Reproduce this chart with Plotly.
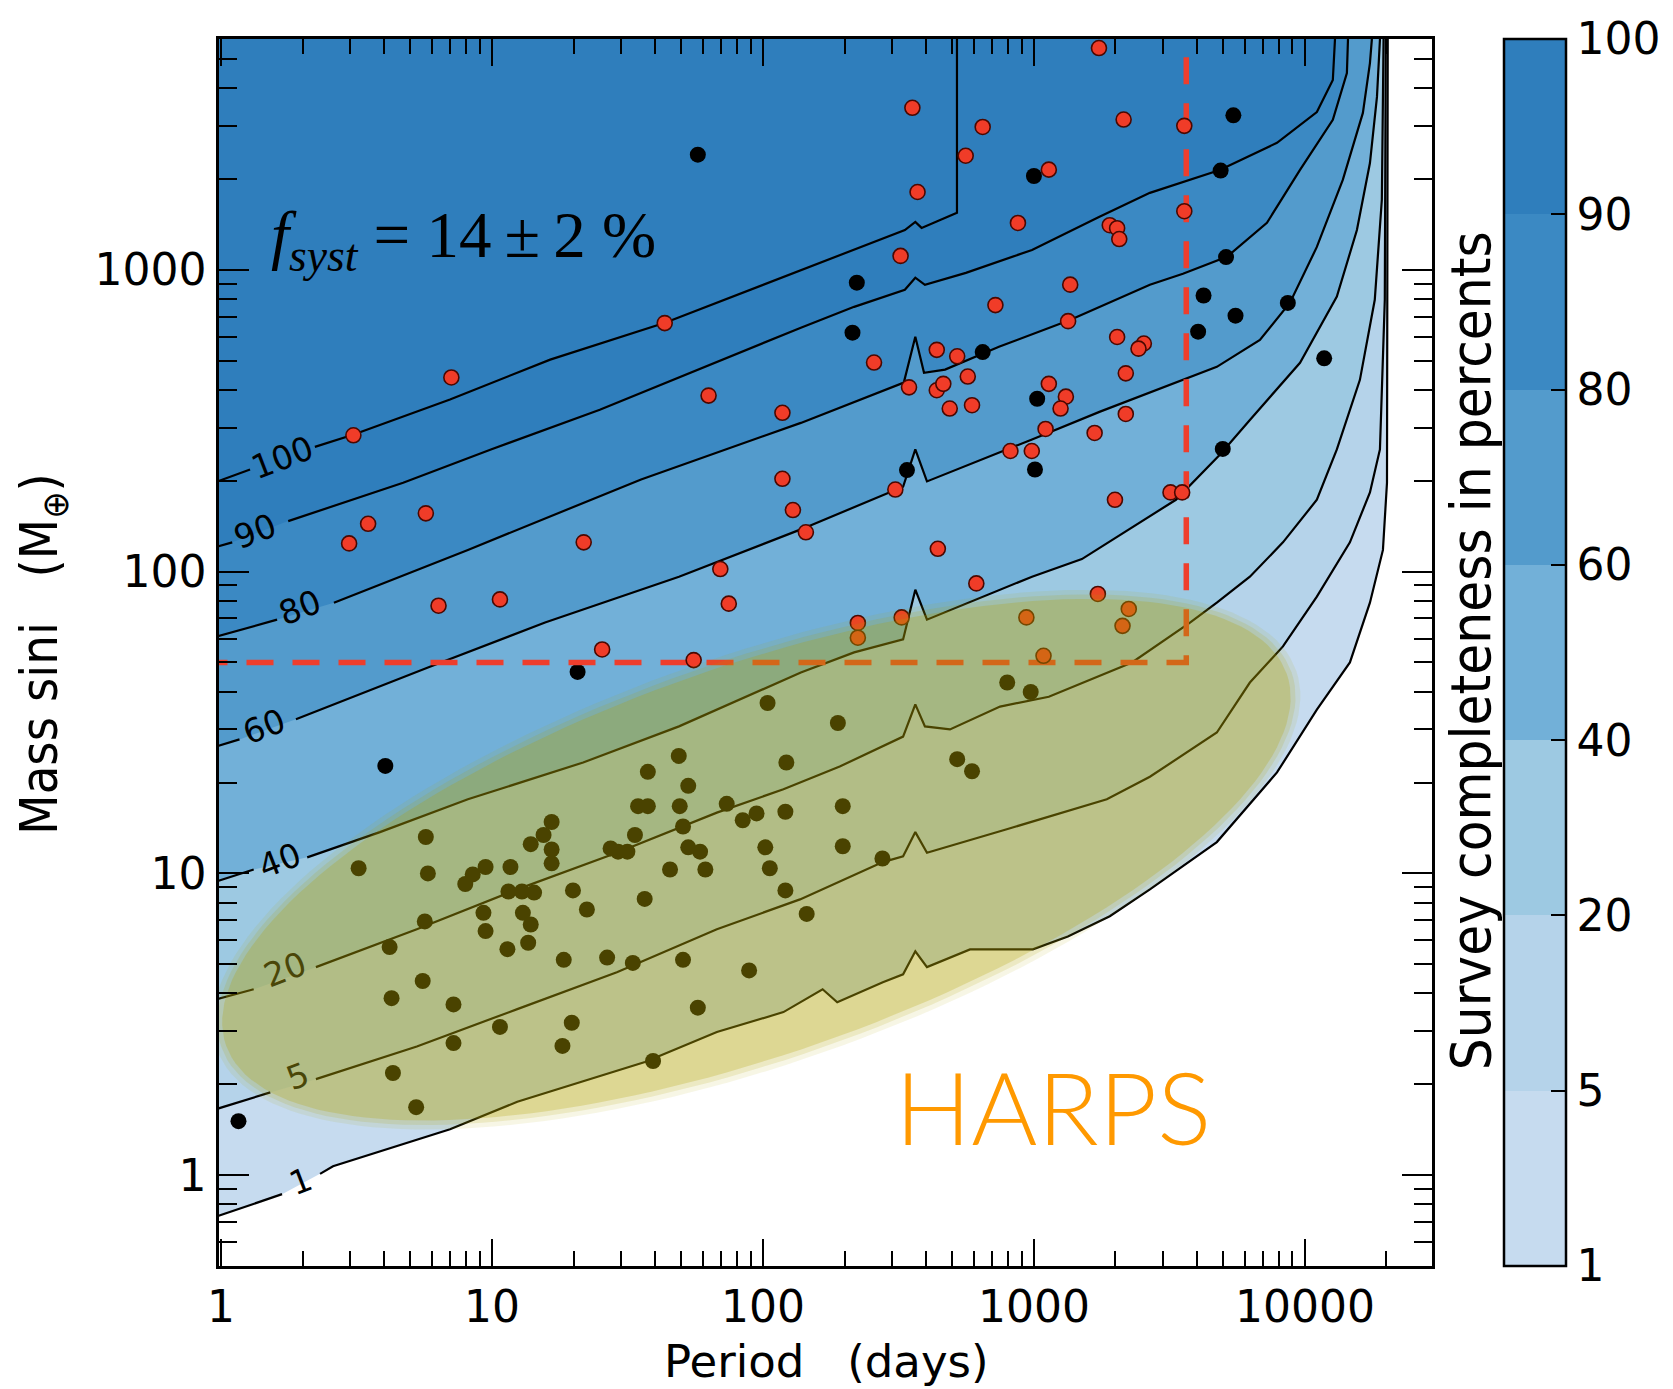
import math
import plotly.graph_objects as go

# ------------------------------------------------------------------
# Values
# ------------------------------------------------------------------
levels = [1, 5, 20, 40, 60, 80, 90, 100]
level_labels = ["1", "5", "20", "40", "60", "80", "90", "100"]
band_colors = ["#c6dbef", "#b5d3ea", "#9dc9e2", "#72b0d8", "#539bcc", "#3b89c3", "#2f7ebc"]

# completeness contour lines: period [days], mass sini [M_earth]
# (the first two points are the short piece left of the inline label)
c1_P = [0.97, 1.68, 2.32, 2.59, 7.0, 12.4, 36.7, 67.6, 119, 166, 188, 277, 329, 365, 403, 581, 991,
        1334, 1905, 2679, 4732, 7889, 11070, 14660, 17380, 19410, 20090, 20230, 20230]
c1_M = [0.731, 0.865, 1.01, 1.07, 1.42, 1.75, 2.37, 2.98, 3.47, 4.13, 3.74, 4.36, 4.63, 5.52, 4.89,
        5.60, 5.60, 6.18, 7.21, 8.85, 12.7, 21.6, 34.9, 50.0, 78.9, 118, 197, 5780, 8000]

c5_P = [0.97, 1.52, 2.24, 5.28, 12.4, 28.9, 67.6, 137, 277, 329, 365, 403, 794, 1858, 2679, 4732,
        6266, 8299, 11070, 14660, 17380, 18920, 19720, 19910, 19910]
c5_M = [1.66, 1.88, 2.08, 2.67, 3.55, 4.70, 6.53, 8.20, 10.9, 11.4, 13.7, 11.7, 14.0, 17.6, 20.9,
        29.3, 42.9, 56.5, 82.6, 125, 183, 254, 796, 5780, 8000]

c20_P = [0.97, 1.32, 2.24, 5.28, 12.4, 28.9, 67.6, 119, 192, 329, 365, 396, 490, 750, 1135, 2301,
         3767, 4732, 6266, 8299, 11070, 13120, 15960, 18110, 19230, 19590, 19590]
c20_M = [3.83, 4.13, 4.89, 6.53, 8.85, 11.7, 15.9, 19.0, 22.6, 28.4, 36.3, 30.7, 30.0, 35.7, 38.5,
         50.0, 67.8, 78.9, 96.2, 125, 173, 254, 432, 796, 1706, 5780, 8000]

c40_P = [0.97, 1.32, 2.08, 3.86, 8.15, 21.7, 49.0, 138, 217, 329, 365, 403, 984, 1503, 3342, 4853,
         6266, 9594, 13120, 15560, 17380, 18450, 18920, 18920]
c40_M = [9.42, 10.3, 11.3, 13.7, 17.6, 23.3, 30.7, 46.3, 54.0, 59.6, 87.1, 69.3, 96.2, 110, 173,
         244, 318, 492, 815, 1355, 2259, 3741, 5780, 8000]

c60_P = [0.97, 1.17, 1.89, 5.90, 15.7, 49.0, 138, 329, 365, 403, 794, 984, 1754, 2679, 4732, 6823,
         8810, 11070, 13800, 16370, 17380, 17660, 17660]
c60_M = [26.4, 27.8, 32.4, 48.4, 67.8, 96.2, 138, 191, 254, 199, 254, 274, 339, 392, 477, 586,
         778, 1191, 1986, 3311, 4842, 5780, 8000]

c80_P = [0.97, 1.61, 2.61, 8.15, 35.5, 138, 331, 365, 393, 470, 743, 1358, 2679, 3548, 5152, 7244,
         9594, 12680, 14290, 14420, 14420]
c80_M = [61.0, 69.3, 78.9, 118, 202, 311, 423, 600, 456, 467, 556, 682, 892, 970, 1104, 1432,
         2143, 3140, 4487, 5780, 8000]

c90_P = [0.97, 1.10, 1.77, 4.70, 9.91, 25.0, 138, 217, 334, 365, 396, 561, 984, 1738, 2679, 4853,
         7889, 11070, 12680, 12910, 12910]
c90_M = [121, 125, 147, 197, 254, 344, 643, 754, 859, 942, 892, 977, 1164, 1496, 1799, 2143,
         2636, 3334, 4256, 5780, 8000]

c100_P = [0.97, 1.28, 2.22, 3.07, 7.0, 16.4, 43.5, 138, 228, 334, 365, 385, 520, 520]
c100_M = [199, 218, 259, 284, 372, 504, 668, 1000, 1191, 1355, 1442, 1377, 1545, 8000]

# inline contour label positions (period, mass) in the order of `levels`
label_P = [1.96, 1.91, 1.72, 1.65, 1.44, 1.96, 1.33, 1.69]
label_M = [0.955, 2.13, 4.81, 11.0, 30.7, 76.0, 136, 238]

# planets
red_P = [3.08, 7.08, 43.4, 2.97, 3.49, 5.70, 21.8, 6.35, 10.7, 25.5, 55.5, 63.0, 69.6, 74.8, 118,
         129, 144, 118, 224, 224, 257, 308, 322, 325, 356, 372, 346, 438, 438, 463, 570, 489, 591,
         521, 560, 613, 647, 721, 819, 873, 982, 1104, 1135, 1135, 1312, 1254, 1361, 1337, 1675,
         1738, 1722, 1905, 2028, 2065, 1991, 2028, 2143, 2183, 2183, 2545, 2432, 3192, 3524, 3589,
         3589, 442, 938, 2239, 2123, 1085]
red_M = [283, 440, 666, 124, 144, 156, 125, 77.1, 80.9, 55.2, 50.9, 383, 102, 78.3, 336, 160, 135,
         203, 67.6, 60.4, 493, 187, 1112, 70.5, 3444, 1811, 408, 543, 399, 419, 443, 347, 356, 517,
         2388, 91.4, 2974, 764, 251, 1430, 251, 297, 2148, 419, 380, 347, 893, 676, 288, 5433, 84.3,
         1406, 1374, 1265, 173, 599, 3148, 454, 333, 570, 548, 183, 183, 3000, 1564, 119, 70.5,
         75.2, 66.1, 52.6]

black_P = [57.5, 222, 214, 647, 1028, 1000, 340, 1009, 5445, 4887, 5117, 4227, 5546, 4036, 8650,
           11780, 4977, 20.7, 4.04, 1.16]
black_M = [2408, 907, 619, 534, 374, 2046, 217, 218, 3251, 2133, 1102, 822, 705, 624, 777, 509,
           255, 46.5, 22.7, 1.51]

low_P = [104, 189, 48.9, 37.6, 122, 53.0, 34.6, 37.6, 49.3, 73.5, 84.2, 94.7, 50.7, 121, 197, 33.7,
         27.4, 29.2, 31.6, 16.6, 16.6, 16.6, 53.0, 58.6, 61.3, 45.4, 102, 106, 197, 276, 521, 591,
         19.9, 22.4, 36.6, 121, 145, 18.4, 26.6, 33.1, 50.7, 88.9, 57.5, 19.7, 18.2, 39.3, 797, 973,
         5.70, 3.22, 5.80, 13.9, 15.5, 9.47, 8.49, 7.97, 11.7, 11.5, 12.9, 14.3, 9.30, 9.47, 13.0,
         13.9, 13.6, 11.4, 5.65, 4.19, 5.55, 4.26, 7.21, 10.7, 7.21, 4.31, 5.25]
low_M = [36.7, 31.5, 24.5, 21.7, 23.3, 19.5, 16.7, 16.7, 16.7, 17.0, 15.0, 15.8, 14.3, 16.0, 16.7,
         13.4, 12.1, 11.8, 11.8, 14.8, 12.0, 10.8, 12.2, 11.8, 10.3, 10.3, 12.2, 10.4, 12.3, 11.2,
         23.9, 21.8, 8.78, 7.59, 8.23, 8.78, 7.34, 5.17, 5.26, 5.05, 5.17, 4.77, 3.59, 3.20, 2.68,
         2.39, 42.9, 39.9, 13.2, 10.4, 10.0, 12.5, 13.4, 10.5, 9.92, 9.22, 10.5, 8.71, 8.71, 8.64,
         7.40, 6.44, 7.40, 6.77, 5.89, 5.61, 6.93, 5.70, 4.40, 3.86, 3.68, 3.10, 2.74, 2.18, 1.68]

# giant-planet box (50 M_earth, 10 yr)
box_P = [0.84, 3650, 3650]
box_M = [50, 50, 8000]

# HARPS ellipse: centre (days, M_earth), semi-axes in screen px, tilt in degrees
ell_center_P = 94.6
ell_center_M = 11.1
ell_a_px = 567
ell_b_px = 199
ell_tilt = 19.3

x_tick_vals = [1, 10, 100, 1000, 10000]
x_tick_text = ["1", "10", "100", "1000", "10000"]
y_tick_vals = [1, 10, 100, 1000]
y_tick_text = ["1", "10", "100", "1000"]
x_range_days = [0.983, 29450]
y_range_mass = [0.50, 5820]

# ------------------------------------------------------------------
W, H = 1673, 1389
ML, MR, MT, MB = 219, 241, 39, 123
PW, PH = W - ML - MR, H - MT - MB
xr = [math.log10(v) for v in x_range_days]
yr = [math.log10(v) for v in y_range_mass]

fig = go.Figure()

curves = [(c1_P, c1_M), (c5_P, c5_M), (c20_P, c20_M), (c40_P, c40_M),
          (c60_P, c60_M), (c80_P, c80_M), (c90_P, c90_M), (c100_P, c100_M)]

# filled bands (completeness >= level)
for i in range(7):
    P, M = curves[i]
    fig.add_trace(go.Scatter(x=P + [P[0]], y=M + [M[-1]], mode="lines", fill="toself",
                             fillcolor=band_colors[i], line=dict(width=0),
                             hoverinfo="skip", showlegend=False))

# contour lines, broken where the inline label sits
for P, M in curves:
    fig.add_trace(go.Scatter(x=P[:2] + [None] + P[2:], y=M[:2] + [None] + M[2:], mode="lines",
                             line=dict(color="black", width=2.2),
                             hoverinfo="skip", showlegend=False))

# black planets
fig.add_trace(go.Scatter(x=black_P + low_P, y=black_M + low_M, mode="markers",
                         marker=dict(size=16, color="black", line=dict(width=0)),
                         hoverinfo="skip", showlegend=False))

# dashed box
fig.add_trace(go.Scatter(x=box_P, y=box_M, mode="lines",
                         line=dict(color="#ee3e2d", width=5.5, dash="27px,19px"),
                         hoverinfo="skip", showlegend=False))

# red planets
fig.add_trace(go.Scatter(x=red_P, y=red_M, mode="markers",
                         marker=dict(size=15, color="#f03c28", line=dict(width=1.6, color="#4a0800")),
                         hoverinfo="skip", showlegend=False))

# translucent HARPS ellipse (soft edge from three layers)
ppd_x = PW / (xr[1] - xr[0])
ppd_y = PH / (yr[1] - yr[0])
th = math.radians(ell_tilt)
lx0, ly0 = math.log10(ell_center_P), math.log10(ell_center_M)
for grow, alpha in [(5, 0.10), (0, 0.15), (-5, 0.242)]:
    a, b = ell_a_px + grow, ell_b_px + grow
    ex, ey = [], []
    for k in range(181):
        t = 2 * math.pi * k / 180
        dx = a * math.cos(th) * math.cos(t) - b * math.sin(th) * math.sin(t)
        dy = a * math.sin(th) * math.cos(t) + b * math.cos(th) * math.sin(t)
        ex.append(10 ** (lx0 + dx / ppd_x))
        ey.append(10 ** (ly0 + dy / ppd_y))
    fig.add_trace(go.Scatter(x=ex, y=ey, mode="lines", fill="toself",
                             fillcolor="rgba(176,162,0,%.3f)" % alpha, line=dict(width=0),
                             hoverinfo="skip", showlegend=False))

# colour bar (equal-height discrete bands)
cs = []
for i, c in enumerate(band_colors):
    cs.append([i / 7, c])
    cs.append([(i + 1) / 7, c])
fig.add_trace(go.Scatter(
    x=[ell_center_P], y=[ell_center_M], mode="markers",
    marker=dict(size=1, opacity=0, color=[0], cmin=0, cmax=7, colorscale=cs, showscale=True,
                colorbar=dict(x=(1504 - ML) / PW, xanchor="left", y=0, yanchor="bottom",
                              len=1, lenmode="fraction", thickness=62, thicknessmode="pixels",
                              xpad=0, ypad=0, outlinewidth=2.5, outlinecolor="black",
                              tickmode="array", tickvals=list(range(8)), ticktext=level_labels,
                              ticks="inside", ticklen=16, tickwidth=2, tickcolor="black",
                              tickfont=dict(family="DejaVu Sans", size=44, color="black"))),
    hoverinfo="skip", showlegend=False))

annotations = []
for i, lab in enumerate(level_labels):
    col = "#4a4608" if lab in ("20", "5") else "black"
    annotations.append(dict(x=math.log10(label_P[i]), y=math.log10(label_M[i]), xref="x", yref="y",
                            text=lab, showarrow=False, textangle=-21,
                            xanchor="center", yanchor="middle",
                            font=dict(family="DejaVu Sans", size=33, color=col)))

annotations.append(dict(x=math.log10(1.50), y=math.log10(1260), xref="x", yref="y",
                        xanchor="left", yanchor="middle", showarrow=False,
                        text="<i>f</i><sub><i>syst</i></sub> = 14\u2009±\u20092\u00a0%",
                        font=dict(family="Liberation Serif", size=65, color="black")))
annotations.append(dict(x=math.log10(1175), y=math.log10(1.69), xref="x", yref="y",
                        xanchor="center", yanchor="middle",
                        showarrow=False, text="HARPS",
                        font=dict(family="Lato", size=101, color="#ff9900", weight=300)))
annotations.append(dict(x=0.501, y=(H - MB - 1361) / PH, xref="paper", yref="paper",
                        xanchor="center", yanchor="middle",
                        showarrow=False, text="Period\u00a0\u00a0\u00a0(days)",
                        font=dict(family="DejaVu Sans", size=45, color="black")))
annotations.append(dict(x=(43 - ML) / PW, y=0.499, xref="paper", yref="paper", textangle=-90,
                        xanchor="center", yanchor="middle",
                        showarrow=False, text="Mass sini\u00a0\u00a0\u00a0(M<sub>⊕</sub>)",
                        font=dict(family="DejaVu Sans Condensed, DejaVu Sans", size=52,
                                  color="black")))
annotations.append(dict(x=(1470 - ML) / PW, y=0.501, xref="paper", yref="paper", textangle=-90,
                        xanchor="center", yanchor="middle",
                        showarrow=False, text="Survey completeness in percents",
                        font=dict(family="DejaVu Sans Condensed, DejaVu Sans", size=56,
                                  color="black")))

x_minor = [k * 10 ** d for d in range(0, 5) for k in range(2, 10) if k * 10 ** d < x_range_days[1]]
y_minor = [k * 10.0 ** d for d in range(-1, 4) for k in range(2, 10)
           if y_range_mass[0] < k * 10.0 ** d < y_range_mass[1]]

fig.update_layout(
    width=W, height=H, margin=dict(l=ML, r=MR, t=MT, b=MB, pad=0, autoexpand=False),
    paper_bgcolor="white", plot_bgcolor="white", showlegend=False,
    annotations=annotations,
    xaxis=dict(type="log", range=xr, autorange=False, showline=True, linewidth=2.5,
               linecolor="black", mirror="ticks", ticks="inside", ticklen=27, tickwidth=2.2,
               tickcolor="black", tickmode="array", tickvals=x_tick_vals, ticktext=x_tick_text,
               tickfont=dict(family="DejaVu Sans", size=44, color="black"),
               showgrid=False, zeroline=False, ticklabelstandoff=0, automargin=False,
               minor=dict(ticks="inside", ticklen=15, tickwidth=1.8, tickcolor="black",
                          tickmode="array", tickvals=x_minor, showgrid=False)),
    yaxis=dict(type="log", range=yr, autorange=False, showline=True, linewidth=2.5,
               linecolor="black", mirror="ticks", ticks="inside", ticklen=30, tickwidth=2.2,
               tickcolor="black", tickmode="array", tickvals=y_tick_vals, ticktext=y_tick_text,
               tickfont=dict(family="DejaVu Sans", size=44, color="black"),
               showgrid=False, zeroline=False, ticklabelstandoff=1, automargin=False,
               minor=dict(ticks="inside", ticklen=18, tickwidth=1.8, tickcolor="black",
                          tickmode="array", tickvals=y_minor, showgrid=False)),
)

fig.write_html("out.html")
